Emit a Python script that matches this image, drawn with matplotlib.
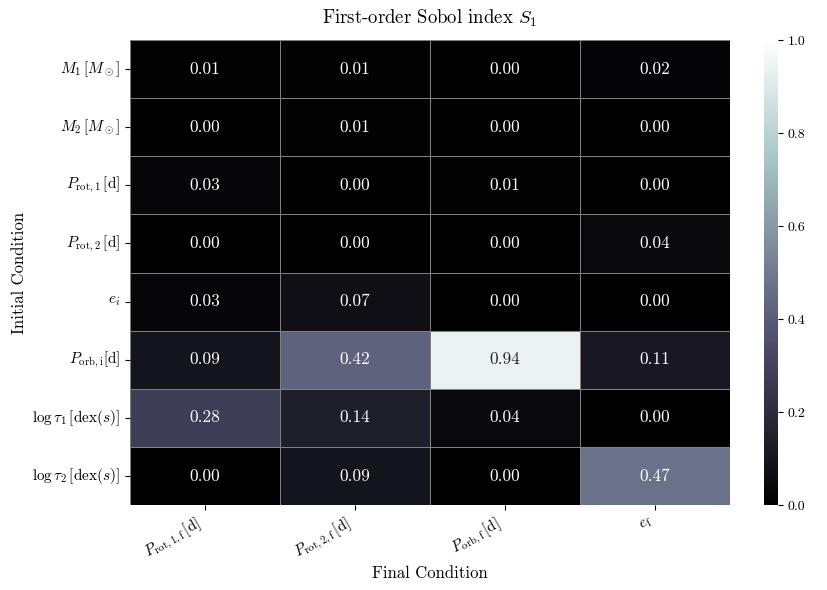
import numpy as np
import pandas as pd
import seaborn as sns
from matplotlib import pyplot as plt

plt.rcParams['font.family'] = 'serif'
plt.rcParams['font.serif'] = ['cmr10']
plt.rcParams['mathtext.fontset'] = 'cm'
plt.rcParams['axes.formatter.use_mathtext'] = True
plt.rcParams['axes.unicode_minus'] = False

ROWS = [r'$M_1\,[M_\odot]$', r'$M_2\,[M_\odot]$', r'$P_{\rm rot,1}\,[\rm d]$',
        r'$P_{\rm rot,2}\,[\rm d]$', r'$e_i$', r'$P_{\rm orb,i}[\rm d]$',
        r'$\log\tau_1\,[\mathrm{dex}(s)]$', r'$\log\tau_2\,[\mathrm{dex}(s)]$']
COLS = [r'$P_{\rm rot,1,f}\,[\rm d]$', r'$P_{\rm rot,2,f}\,[\rm d]$',
        r'$P_{\rm orb,f}\,[\rm d]$', r'$e_{\rm f}$']

S1 = [
    [0.01, 0.01, 0.00, 0.02],
    [0.00, 0.01, 0.00, 0.00],
    [0.03, 0.00, 0.01, 0.00],
    [0.00, 0.00, 0.00, 0.04],
    [0.03, 0.07, 0.00, 0.00],
    [0.09, 0.42, 0.94, 0.11],
    [0.28, 0.14, 0.04, 0.00],
    [0.00, 0.09, 0.00, 0.47],
]

df = pd.DataFrame(np.array(S1), index=ROWS, columns=COLS)

fig = plt.figure(figsize=(8.27, 5.9), dpi=100)
ax = fig.add_axes([130 / 827, 85 / 590, 600 / 827, 465 / 590])
cax = fig.add_axes([764 / 827, 85 / 590, 14 / 827, 465 / 590])

sns.heatmap(df, ax=ax, cbar_ax=cax, cmap='bone', vmin=0, vmax=1,
            annot=True, fmt='.2f', annot_kws={'size': 12.5},
            linewidths=0.5, linecolor='gray')
cax.tick_params(labelsize=10)
cax.set_yticks([0, 0.2, 0.4, 0.6, 0.8, 1.0])
cax.set_yticklabels(['0.0', '0.2', '0.4', '0.6', '0.8', '1.0'])

ax.set_title(r'First-order Sobol index $S_1$', fontsize=13.5, pad=12)
ax.set_xlabel('Final Condition', fontsize=12, labelpad=2)
ax.set_ylabel('Initial Condition', fontsize=12)
ax.set_xticklabels(COLS, rotation=30, ha='right', fontsize=11)
ax.set_yticklabels(ROWS, rotation=0, fontsize=11)

plt.savefig('out.png', dpi=100)
plt.close()
